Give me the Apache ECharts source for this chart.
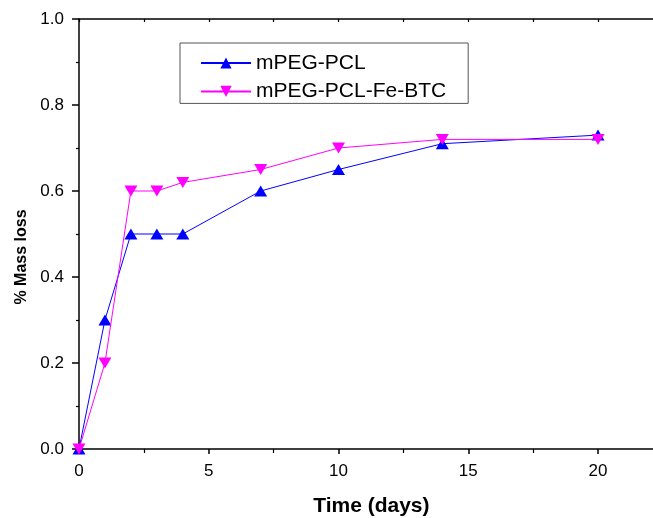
<!DOCTYPE html>
<html>
<head>
<meta charset="utf-8">
<script src="https://cdn.jsdelivr.net/npm/echarts@6/dist/echarts.min.js"></script>
<style>
  html, body { margin: 0; padding: 0; background: #fff; }
  #chart { width: 653px; height: 518px; }
</style>
</head>
<body>
<div id="chart"></div>
<script>
// Degradation time points (days) and mass loss fraction per polymer
const days = [0, 1, 2, 3, 4, 7, 10, 14, 20];
const massLossPCL = [0, 0.30, 0.50, 0.50, 0.50, 0.60, 0.65, 0.71, 0.73];
const massLossFeBTC = [0, 0.20, 0.60, 0.60, 0.62, 0.65, 0.70, 0.72, 0.72];
const seriesNames = ['mPEG-PCL', 'mPEG-PCL-Fe-BTC'];
const xTitle = 'Time (days)';
const yTitle = '% Mass loss';

const pair = (xs, ys) => xs.map((x, i) => [x, ys[i]]);
const FONT = '"Liberation Sans", Arial, sans-serif';

const chart = echarts.init(document.getElementById('chart'), null, { renderer: 'canvas' });

chart.setOption({
  animation: false,
  backgroundColor: '#ffffff',
  grid: { left: 79, top: 19, width: 648.75, height: 430, outerBoundsMode: 'none', containLabel: false },
  legend: {
    orient: 'vertical',
    left: 180,
    top: 43,
    padding: [9.5, 22, 1.5, 20],
    itemWidth: 50,
    itemHeight: 14,
    itemGap: 7.4,
    borderColor: '#555',
    borderWidth: 1,
    textStyle: { fontFamily: FONT, fontSize: 21, color: '#000' },
    data: seriesNames
  },
  xAxis: [
    {
      type: 'value',
      position: 'bottom',
      min: 0, max: 25, interval: 5,
      name: xTitle,
      nameLocation: 'middle',
      nameGap: 47,
      nameTextStyle: { fontFamily: FONT, fontSize: 21, fontWeight: 'bold', color: '#000', padding: [0, 64, 0, 0] },
      axisLine: { onZero: false, lineStyle: { color: '#000', width: 1.5 } },
      axisTick: { inside: false, length: 5, lineStyle: { color: '#000', width: 1.5 } },
      minorTick: { show: true, splitNumber: 2, length: 4, lineStyle: { color: '#000', width: 1.2 } },
      axisLabel: { margin: 14, fontFamily: FONT, fontSize: 17, color: '#000' },
      splitLine: { show: false }
    },
    {
      type: 'value',
      position: 'top',
      min: 0, max: 25, interval: 2.5,
      axisLine: { onZero: false, lineStyle: { color: '#000', width: 1.5 } },
      axisTick: { inside: true, length: 3, lineStyle: { color: '#000', width: 1.2 } },
      axisLabel: { show: false },
      splitLine: { show: false }
    }
  ],
  yAxis: {
    type: 'value',
    min: 0, max: 1, interval: 0.2,
    name: yTitle,
    nameLocation: 'middle',
    nameGap: 49,
    nameTextStyle: { fontFamily: FONT, fontSize: 16, fontWeight: 'bold', color: '#000', padding: [0, 46, 0, 0] },
    axisLine: { show: true, onZero: false, lineStyle: { color: '#000', width: 1.5 } },
    axisTick: { show: true, inside: false, length: 7, lineStyle: { color: '#000', width: 1.5 } },
    minorTick: { show: true, splitNumber: 2, length: 3, lineStyle: { color: '#000', width: 1.2 } },
    axisLabel: { margin: 15, fontFamily: FONT, fontSize: 17, color: '#000', formatter: v => v.toFixed(1) },
    splitLine: { show: false }
  },
  series: [
    {
      name: seriesNames[0],
      type: 'line',
      data: pair(days, massLossPCL),
      symbol: 'triangle',
      symbolSize: [13, 11],
      showAllSymbol: true,
      lineStyle: { color: '#0000ff', width: 1 },
      itemStyle: { color: '#0000ff', borderWidth: 0 },
      z: 3
    },
    {
      name: seriesNames[1],
      type: 'line',
      data: pair(days, massLossFeBTC),
      symbol: 'triangle',
      symbolRotate: 180,
      symbolSize: [13, 11],
      showAllSymbol: true,
      lineStyle: { color: '#ff00ff', width: 1 },
      itemStyle: { color: '#ff00ff', borderWidth: 0 },
      z: 4
    }
  ]
});
</script>
</body>
</html>
